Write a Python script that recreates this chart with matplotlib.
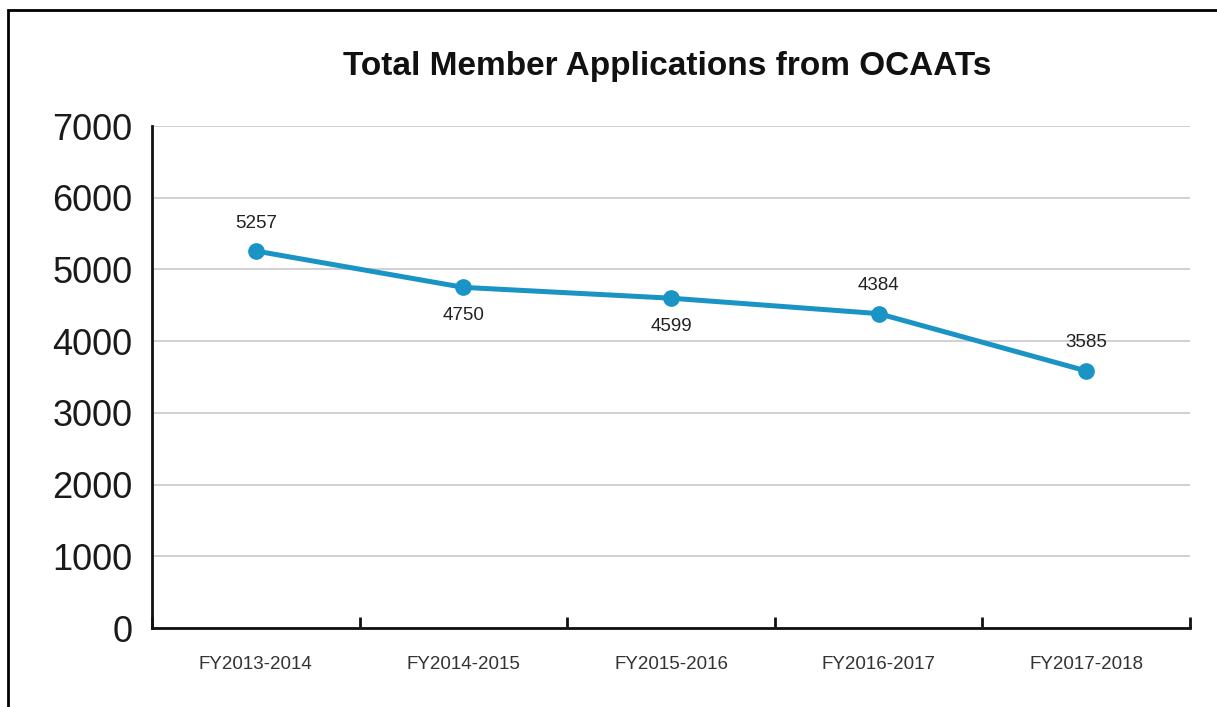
import matplotlib
matplotlib.use("Agg")
import matplotlib.pyplot as plt
from matplotlib.patches import Rectangle

plt.rcParams['font.family'] = ['Liberation Sans', 'DejaVu Sans']

fiscal_years = ["FY2013-2014", "FY2014-2015", "FY2015-2016", "FY2016-2017", "FY2017-2018"]
applications = [5257, 4750, 4599, 4384, 3585]
label_above = [True, False, False, True, True]
y_ticks = [0, 1000, 2000, 3000, 4000, 5000, 6000, 7000]

line_color = "#1a94c4"

fig = plt.figure(figsize=(12.17, 7.07), dpi=100)
ax = fig.add_axes([152/1217, 1 - 628/707, (1190-152)/1217, (628-126)/707])

x = list(range(len(fiscal_years)))
ax.plot(x, applications, color=line_color, linewidth=3.6, marker='o',
        markersize=11, zorder=3)

for xi, val, above in zip(x, applications, label_above):
    offset = 14 if above else -14
    ax.annotate(str(val), (xi, val), xytext=(0, offset), textcoords='offset points',
                ha='center', va='bottom' if above else 'top', fontsize=13.5, color='#222222')

ax.set_xlim(-0.5, len(fiscal_years) - 0.5)
ax.set_ylim(0, 7000)
ax.set_yticks(y_ticks)
ax.set_yticklabels([str(t) for t in y_ticks], fontsize=26, color='#1a1a1a')
ax.tick_params(axis='y', length=0, pad=14)
ax.yaxis.grid(True, color='#c8c8c8', linewidth=1.2)
ax.set_axisbelow(True)

# category boundaries as major ticks, names centred as minor tick labels
ax.set_xticks([i - 0.5 for i in range(len(fiscal_years) + 1)])
ax.set_xticklabels([])
ax.tick_params(axis='x', which='major', direction='in', length=8, width=2, color='#111111')
ax.set_xticks(x, minor=True)
ax.set_xticklabels(fiscal_years, minor=True, fontsize=13.5, color='#333333')
ax.tick_params(axis='x', which='minor', length=0, pad=20)

for side in ('top', 'right'):
    ax.spines[side].set_visible(False)
ax.spines['left'].set_linewidth(2)
ax.spines['bottom'].set_linewidth(2)
ax.spines['left'].set_color('#111111')
ax.spines['bottom'].set_color('#111111')

fig.text(667/1217, 1 - 66/707, "Total Member Applications from OCAATs",
         ha='center', va='center', fontsize=24, fontweight='bold', color='#111111')

fig.patches.append(Rectangle((8/1217, -0.05), 1.1, 1.05 - 10/707,
                             transform=fig.transFigure, fill=False,
                             edgecolor='black', linewidth=2))

fig.savefig("out.png", dpi=100)
